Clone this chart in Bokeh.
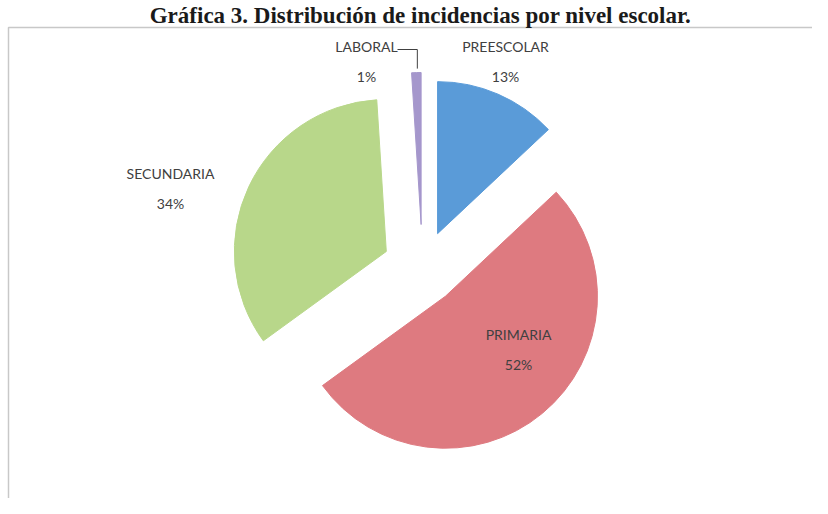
import math
from bokeh.plotting import figure
from bokeh.models import ColumnDataSource, Range1d
from bokeh.core.properties import value
from bokeh.embed import file_html
from bokeh.resources import INLINE

# ---- data ----
categories = ["PREESCOLAR", "PRIMARIA", "SECUNDARIA", "LABORAL"]
percents = [13, 52, 34, 1]
colors = ["#5A9BD8", "#DE7A80", "#B8D78A", "#A597CC"]
title_text = "Gráfica 3. Distribución de incidencias por nivel escolar."

# ---- layout (pixels, 1 data unit = 1 px) ----
W, H = 812, 498
cx, cy = 422, 230          # pie centre
radius = 152
explode = [38, 36, 40, 44]  # per-slice pull-out distance
label_pos = [(505, 452), (518, 164), (170, 325), (366, 452)]
pct_gap = 30

p = figure(width=W, height=H, output_backend="svg", toolbar_location=None,
           x_range=Range1d(0, W), y_range=Range1d(0, H), min_border=0)
p.axis.visible = False
p.grid.visible = False
p.outline_line_color = None
p.background_fill_color = "white"

# frame border of the original chart box
p.line(x=[8, 8, 830], y=[0, 471, 471], line_color="#C8C8C8", line_width=1.5)

total = sum(percents)
cum = 0.0
xs, ys, starts, ends = [], [], [], []
outer_pts = []
for v, d in zip(percents, explode):
    a1 = cum / total * 360.0
    a2 = (cum + v) / total * 360.0
    cum += v
    mid = math.radians((a1 + a2) / 2)
    ox, oy = cx + d * math.sin(mid), cy + d * math.cos(mid)
    xs.append(ox)
    ys.append(oy)
    starts.append(math.radians(90 - a2))
    ends.append(math.radians(90 - a1))
    outer_pts.append((ox + radius * math.sin(mid), oy + radius * math.cos(mid)))

src = ColumnDataSource(dict(x=xs, y=ys, s=starts, e=ends, c=colors))
p.wedge(x="x", y="y", radius=radius, start_angle="s", end_angle="e",
        fill_color="c", line_color="c", line_width=1, source=src)

# labels
lab_x = [lp[0] for lp in label_pos]
lab_y = [lp[1] for lp in label_pos]
p.text(x=lab_x, y=lab_y, text=categories, text_font=value("Lato"),
       text_font_size="14px", text_color="#404040", text_align="center",
       text_baseline="middle")
p.text(x=lab_x, y=[v - pct_gap for v in lab_y], text=[f"{v}%" for v in percents],
       text_font=value("Lato"), text_font_size="14px", text_color="#404040",
       text_align="center", text_baseline="middle")

# leader line for the small LABORAL slice
lx, ly = label_pos[3]
tx, ty = outer_pts[3]
p.line(x=[lx + 31, tx + 1, tx + 1], y=[ly - 3, ly - 3, ty + 4],
       line_color="#404040", line_width=1)

# title
p.text(x=[W / 2 + 14], y=[H - 2], text=[title_text],
       text_font=value("Liberation Serif"), text_font_style="bold",
       text_font_size="23px", text_color="#1a1a1a", text_align="center",
       text_baseline="top")

open("out.html", "w").write(file_html(p, INLINE))
